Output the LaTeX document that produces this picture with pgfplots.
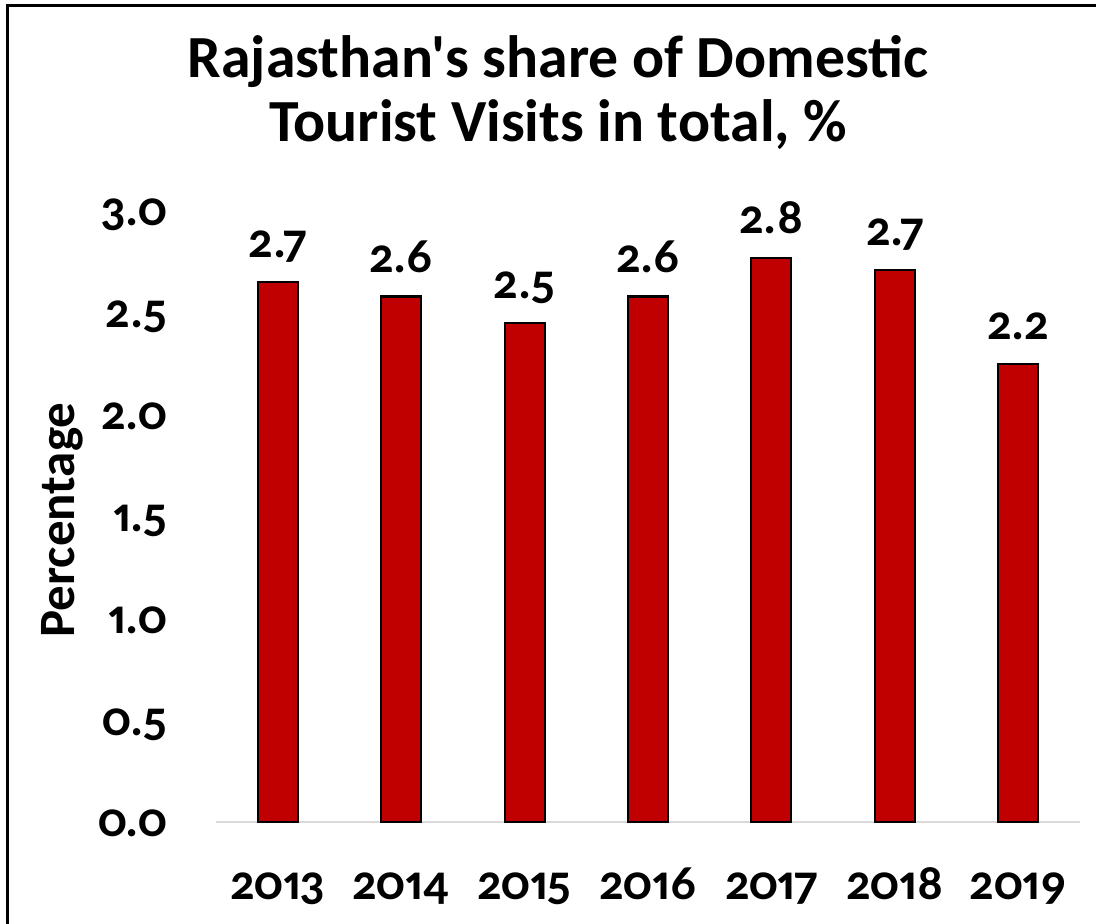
\documentclass[border=0pt]{standalone}
\usepackage{fontspec}
\setmainfont{Carlito}[Numbers={OldStyle,Proportional}, Ligatures=TeXOff]
\usepackage{pgfplots}
\pgfplotsset{compat=1.18}
\definecolor{barred}{HTML}{C00000}
\definecolor{baseg}{HTML}{D9D9D9}

\begin{document}
\begin{tikzpicture}
\useasboundingbox (-2.16,-1.02) rectangle (8.80,8.22);
% chart frame, cut off at right and bottom
\draw[black, line width=0.85pt] (-2.085,-1.1) -- (-2.085,8.165) -- (8.9,8.165);
\begin{axis}[
  scale only axis,
  width=8.64cm, height=6.11cm,
  xmin=-0.5, xmax=6.5, ymin=0, ymax=3,
  axis x line*=bottom, axis y line*=left,
  x axis line style={baseg, line width=0.5pt, -},
  y axis line style={draw=none},
  xtick={0,...,6},
  xticklabels={2013,2014,2015,2016,2017,2018,2019},
  ytick={0,0.5,...,3.0},
  major tick length=0pt,
  xticklabel style={font=\fontsize{14}{17}\selectfont\bfseries, anchor=base, inner sep=0pt, yshift=-0.78cm},
  yticklabel style={font=\fontsize{14}{17}\selectfont\bfseries, anchor=base east, inner sep=0pt, xshift=-0.48cm, yshift=-0.15cm,
    /pgf/number format/.cd, fixed, fixed zerofill, precision=1, assume math mode=true},
  ybar, bar width=0.40cm,
  nodes near coords, point meta=explicit symbolic,
  nodes near coords style={font=\fontsize{14}{17}\selectfont\bfseries, anchor=base, inner sep=0pt, yshift=0.245cm},
  clip=false,
]
\addplot[fill=barred, draw=black, line width=0.6pt] coordinates {
  (0,2.65) [2.7]
  (1,2.58) [2.6]
  (2,2.45) [2.5]
  (3,2.58) [2.6]
  (4,2.77) [2.8]
  (5,2.71) [2.7]
  (6,2.25) [2.2]
};
\end{axis}
\node[rotate=90, anchor=base, font=\fontsize{14.5}{17}\selectfont\bfseries] at (-1.41,3.02) {Percentage};
\node[anchor=base, font=\fontsize{17}{20}\selectfont\bfseries] at (3.42,7.44) {Rajasthan's share of Domestic};
\node[anchor=base, font=\fontsize{17}{20}\selectfont\bfseries] at (3.42,6.80) {Tourist Visits in total, \%};
\end{tikzpicture}
\end{document}
